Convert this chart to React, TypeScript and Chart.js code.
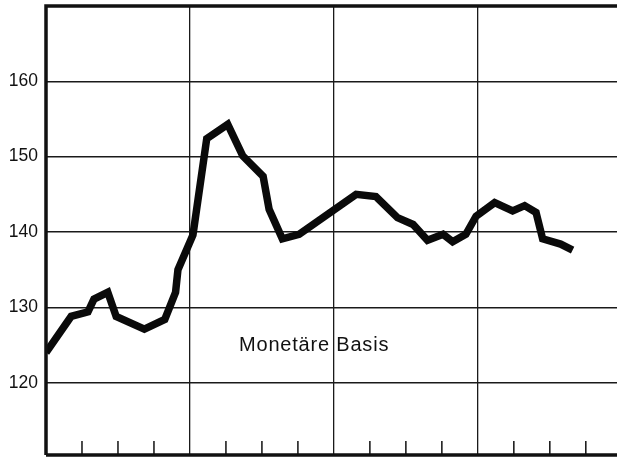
import React, { useEffect, useRef } from "react";
import { Chart, registerables } from "chart.js";

Chart.register(...registerables);

// x in months from start of first year, y = index value
const months = [0, 2.1, 3.5, 4.0, 5.15, 5.85, 8.2, 9.9, 10.8, 11.0, 12.25, 13.4, 15.15, 16.4, 18.1, 18.6, 19.7, 21.1, 25.85, 27.5, 29.3, 30.6, 31.8, 33.1, 33.9, 35.0, 35.85, 37.4, 38.9, 39.9, 40.85, 41.4, 42.9, 43.9];
const values = [124.0, 128.8, 129.4, 131.1, 132.0, 128.8, 127.1, 128.4, 132.0, 135.0, 139.6, 152.4, 154.3, 150.1, 147.4, 143.0, 139.1, 139.7, 145.0, 144.7, 141.9, 141.0, 138.9, 139.7, 138.7, 139.7, 142.1, 143.9, 142.8, 143.5, 142.6, 139.1, 138.4, 137.6];

const yTickValues = [120, 130, 140, 150, 160];
const yearLines = [12, 24, 36];
const quarterTicks = [3, 6, 9, 15, 18, 21, 27, 30, 33, 39, 42, 45];
const labelText = "Monetäre Basis";
const labelAt = { x: 22.35, y: 125.0 };

const framePlugin = {
  id: "frame",
  afterDraw(chart: any) {
    const { ctx, chartArea } = chart;
    const xs = chart.scales.x;
    const ys = chart.scales.y;
    ctx.save();
    ctx.strokeStyle = "#111";
    ctx.lineCap = "butt";
    ctx.lineWidth = 3.5;
    ctx.beginPath();
    ctx.moveTo(chartArea.left, chartArea.bottom);
    ctx.lineTo(chartArea.left, chartArea.top);
    ctx.lineTo(chartArea.right, chartArea.top);
    ctx.moveTo(chartArea.left, chartArea.bottom);
    ctx.lineTo(chartArea.right, chartArea.bottom);
    ctx.stroke();
    ctx.lineWidth = 1.5;
    ctx.beginPath();
    for (const q of quarterTicks) {
      const px = xs.getPixelForValue(q);
      ctx.moveTo(px, chartArea.bottom);
      ctx.lineTo(px, chartArea.bottom - 14);
    }
    ctx.stroke();
    ctx.fillStyle = "#111";
    ctx.font = "20px 'Liberation Sans', Arial, sans-serif";
    (ctx as any).letterSpacing = "0.8px";
    ctx.textAlign = "center";
    ctx.textBaseline = "middle";
    ctx.fillText(labelText, xs.getPixelForValue(labelAt.x), ys.getPixelForValue(labelAt.y));
    ctx.restore();
  },
};

export default function App() {
  const ref = useRef<HTMLCanvasElement | null>(null);
  useEffect(() => {
    if (!ref.current) return;
    const chart = new Chart(ref.current, {
      type: "line",
      data: {
        datasets: [
          {
            data: months.map((m, i) => ({ x: m, y: values[i] })),
            borderColor: "#0a0a0a",
            borderWidth: 7.5,
            borderJoinStyle: "miter",
            pointRadius: 0,
            tension: 0,
            fill: false,
          },
        ],
      },
      options: {
        animation: false,
        responsive: false,
        maintainAspectRatio: false,
        layout: { padding: { top: 6, right: 0, bottom: 0, left: 0 } },
        plugins: { legend: { display: false }, tooltip: { enabled: false } },
        scales: {
          x: {
            type: "linear",
            min: 0,
            max: 47.6,
            afterBuildTicks: (axis: any) => {
              axis.ticks = yearLines.map((v) => ({ value: v }));
            },
            afterFit: (axis: any) => {
              axis.height = 2;
              axis.paddingLeft = 0;
              axis.paddingRight = 0;
              axis.paddingTop = 0;
              axis.paddingBottom = 0;
            },
            ticks: { display: false },
            grid: { color: "#1a1a1a", lineWidth: 1.3, drawTicks: false },
            border: { display: false },
          },
          y: {
            type: "linear",
            min: 110.4,
            max: 170,
            afterBuildTicks: (axis: any) => {
              axis.ticks = yTickValues.map((v) => ({ value: v }));
            },
            afterFit: (axis: any) => {
              axis.width = 46;
              axis.paddingTop = 0;
              axis.paddingBottom = 0;
              axis.paddingLeft = 0;
              axis.paddingRight = 0;
            },
            ticks: {
              padding: 8,
              color: "#111",
              font: { family: "'Liberation Sans', Arial, sans-serif", size: 17.5 },
            },
            grid: { color: "#1a1a1a", lineWidth: 1.5, drawTicks: false },
            border: { display: false },
          },
        },
      },
      plugins: [framePlugin],
    } as any);
    return () => chart.destroy();
  }, []);
  return (
    <div style={{ position: "fixed", left: 0, top: 0, width: 617, height: 457, background: "#fff" }}>
      <canvas ref={ref} width={617} height={457} style={{ width: 617, height: 457, display: "block" }} />
    </div>
  );
}
